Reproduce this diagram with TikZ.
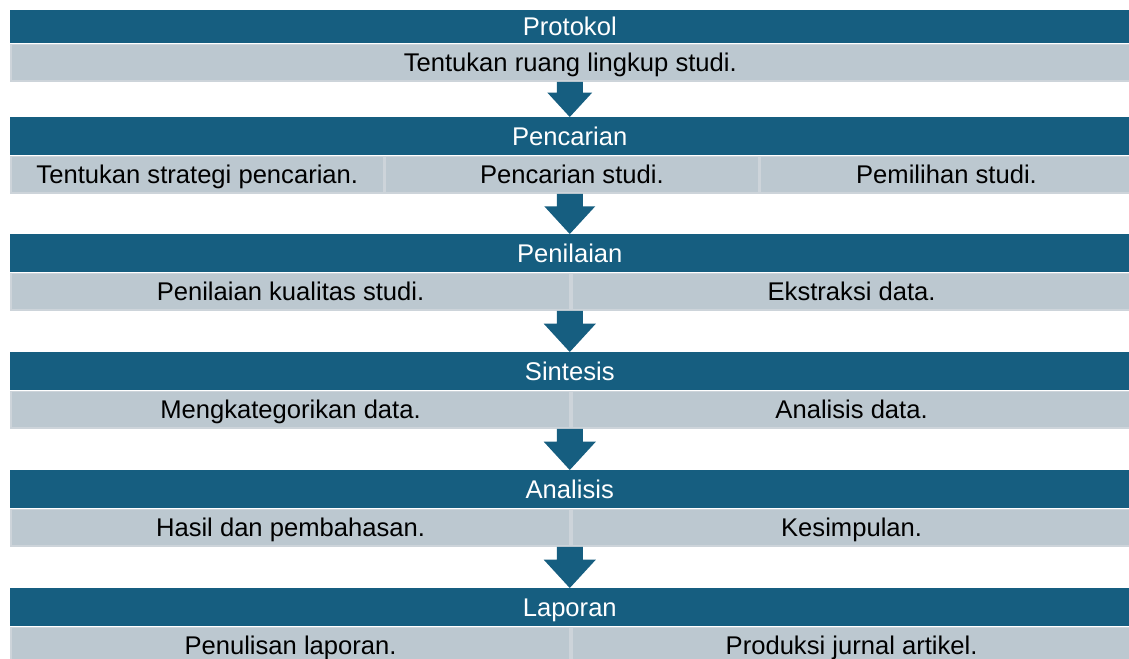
\documentclass[tikz,border=0pt]{standalone}
\usepackage{fontspec}
\setmainfont{Liberation Sans}
\usetikzlibrary{positioning,calc}

\definecolor{barblue}{RGB}{22,94,128}
\definecolor{cellgray}{RGB}{188,200,208}
\definecolor{cellline}{RGB}{205,212,218}

\tikzset{
  bar/.style={fill=barblue, text=white, anchor=north west, inner sep=0pt,
    minimum width=839.25pt, minimum height=28.5pt,
    text height=13.3pt, text depth=0pt, font=\fontsize{19.2}{22}\selectfont},
  cell/.style={fill=cellgray, draw=cellline, line width=1.2pt, text=black, inner sep=0pt,
    minimum height=27.5pt, text height=13.3pt, text depth=0pt,
    font=\fontsize{19.2}{22}\selectfont},
  third/.style={cell, minimum width=279.75pt},
  half/.style={cell, minimum width=419.6pt},
}

% block arrow from the bottom of one row to the top of the next
\newcommand\flowarrow[2]{%
  \fill[barblue] let \p1=(#1), \p2=(#2), \n1={0.69*(\y1-\y2)}, \n2={0.92*\n1} in
    (\x1-9.75pt,\y1) -- (\x1+9.75pt,\y1) -- (\x1+9.75pt,\y2+\n1) -- (\x1+\n2,\y2+\n1)
    -- (\x1,\y2) -- (\x1-\n2,\y2+\n1) -- (\x1-9.75pt,\y2+\n1) -- cycle;
}

\begin{document}
\begin{tikzpicture}[x=0.75pt, y=-0.75pt]
    \useasboundingbox (0,0) rectangle (1129,658);
    \clip (0,0) rectangle (1129,658);

    \node[bar, minimum height=24.75pt] (proto) at (10,10) {Protokol};
    \node[cell, minimum width=839.25pt, anchor=north west] (proto1) at (proto.south west) {Tentukan ruang lingkup studi.};

    \node[bar] (cari) at (10,117) {Pencarian};
    \node[third, anchor=north west] (cari1) at (cari.south west) {Tentukan strategi pencarian.};
    \node[third, right=0pt of cari1] (cari2) {Pencarian studi.};
    \node[third, right=0pt of cari2] (cari3) {Pemilihan studi.};

    \node[bar] (nilai) at (10,234) {Penilaian};
    \node[half, anchor=north west] (nilai1) at (nilai.south west) {Penilaian kualitas studi.};
    \node[half, right=0pt of nilai1] (nilai2) {Ekstraksi data.};

    \node[bar] (sintesis) at (10,352) {Sintesis};
    \node[half, anchor=north west] (sintesis1) at (sintesis.south west) {Mengkategorikan data.};
    \node[half, right=0pt of sintesis1] (sintesis2) {Analisis data.};

    \node[bar] (analisis) at (10,470) {Analisis};
    \node[half, anchor=north west] (analisis1) at (analisis.south west) {Hasil dan pembahasan.};
    \node[half, right=0pt of analisis1] (analisis2) {Kesimpulan.};

    \node[bar] (lapor) at (10,588) {Laporan};
    \node[half, anchor=north west] (lapor1) at (lapor.south west) {Penulisan laporan.};
    \node[half, right=0pt of lapor1] (lapor2) {Produksi jurnal artikel.};

    \flowarrow{proto.center |- proto1.south}{cari.north}
    \flowarrow{cari.center |- cari1.south}{nilai.north}
    \flowarrow{nilai.center |- nilai1.south}{sintesis.north}
    \flowarrow{sintesis.center |- sintesis1.south}{analisis.north}
    \flowarrow{analisis.center |- analisis1.south}{lapor.north}
\end{tikzpicture}
\end{document}
